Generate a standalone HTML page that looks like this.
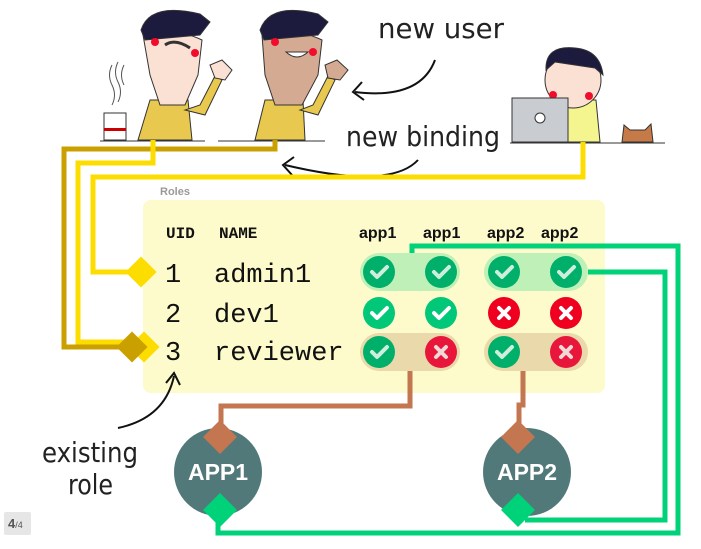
<!DOCTYPE html>
<html><head><meta charset="utf-8"><style>
body{margin:0;width:701px;height:544px;overflow:hidden;background:#fff;font-family:"Liberation Sans",sans-serif}
</style></head><body>
<svg width="701" height="544" viewBox="0 0 701 544" xmlns="http://www.w3.org/2000/svg">
<!-- people -->
<g stroke="#333" stroke-width="1">
 <!-- person1 -->
 <path d="M150 100 L138 140 L192 140 L188 100 Z" fill="#e8c84e"/>
 <path d="M185 110 L205 115 L222 80 L215 76 L200 105 Z" fill="#e8c84e"/>
 <path d="M215 78 L210 65 L222 60 L232 70 L225 80 Z" fill="#fbe0d4"/>
 <path d="M143 35 Q170 25 202 40 L198 75 L185 105 L160 105 L150 75 Z" fill="#fbe0d4"/>
 <path d="M141 30 Q150 2 200 14 L210 22 L200 35 L145 40 Z" fill="#1c1a3d"/>
 <circle cx="155" cy="42" r="4" fill="#f00c2a" stroke="none"/>
 <circle cx="195" cy="53" r="4" fill="#f00c2a" stroke="none"/>
 <path d="M165 45 Q175 38 190 48" fill="none" stroke-width="3"/>
 <!-- cup -->
 <rect x="104" y="113" width="22" height="27" fill="#fff"/>
 <rect x="104" y="128" width="22" height="3" fill="#c00" stroke="none"/>
 <path d="M112 65 q-5 10 0 20 q5 10 0 20 M118 62 q-5 10 0 20 q5 10 0 20 M124 65 q-5 10 0 20" fill="none" stroke="#555"/>
 <line x1="100" y1="141" x2="205" y2="141"/>
 <!-- person2 -->
 <path d="M265 100 L255 140 L305 140 L303 100 Z" fill="#e8c84e"/>
 <path d="M300 110 L318 115 L335 80 L328 76 L313 105 Z" fill="#e8c84e"/>
 <path d="M328 78 L325 65 L337 60 L348 70 L340 80 Z" fill="#d5aa92"/>
 <path d="M262 35 Q290 25 322 40 L318 75 L302 105 L275 105 L265 75 Z" fill="#d5aa92"/>
 <path d="M260 30 Q270 2 318 14 L328 22 L318 35 L264 40 Z" fill="#1c1a3d"/>
 <circle cx="275" cy="42" r="4" fill="#f00c2a" stroke="none"/>
 <circle cx="313" cy="52" r="4" fill="#f00c2a" stroke="none"/>
 <path d="M286 52 Q297 62 308 52 Z" fill="#fff"/>
 <line x1="218" y1="141" x2="325" y2="141"/>
 <!-- person3 -->
 <path d="M565 100 L560 142 L600 142 L596 100 Z" fill="#f5f590"/>
 <circle cx="573" cy="80" r="28" fill="#fbe0d4"/>
 <path d="M546 70 Q545 45 575 48 Q600 50 603 75 L595 68 L555 62 Z" fill="#1c1a3d"/>
 <circle cx="553" cy="95" r="4" fill="#f00c2a" stroke="none"/>
 <circle cx="589" cy="96" r="4" fill="#f00c2a" stroke="none"/>
 <rect x="512" y="98" width="56" height="44" fill="#c9cdd2"/>
 <circle cx="540" cy="118" r="5" fill="#fff"/>
 <path d="M622 142 L624 125 L630 130 L645 130 L651 124 L653 142 Z" fill="#c57a48"/>
 <line x1="510" y1="143" x2="665" y2="143"/>
</g>
<!-- Roles box -->
<text x="160" y="195" font-size="11" font-weight="bold" fill="#999">Roles</text>
<rect x="143" y="200" width="462" height="193" rx="8" fill="#fdfbcb"/>
<!-- handwritten labels -->
<g font-family="DejaVu Sans Condensed, DejaVu Sans, sans-serif" fill="#222">
 <text x="378" y="38" font-size="28" textLength="126" lengthAdjust="spacingAndGlyphs">new user</text>
 <text x="346" y="146" font-size="28" textLength="154" lengthAdjust="spacingAndGlyphs">new binding</text>
 <text x="42" y="462" font-size="28" textLength="96" lengthAdjust="spacingAndGlyphs">existing</text>
 <text x="68" y="494" font-size="28" textLength="45" lengthAdjust="spacingAndGlyphs">role</text>
</g>
<g fill="none" stroke="#111" stroke-width="2">
 <path d="M435 60 Q420 100 355 92"/><path d="M362 82 L353 92 L364 100"/>
 <path d="M418 160 Q390 190 285 165"/><path d="M294 157 L283 165 L292 175"/>
 <path d="M118 428 Q165 418 174 376"/><path d="M166 383 L174 373 L180 385"/>
</g>
<!-- yellow lines -->
<g fill="none" stroke-width="5">
 <path d="M275 140 V149 H64 V347 H132" stroke="#c9a000"/>
 <path d="M153 140 V163 H78 V342 H140" stroke="#fddc00"/>
 <path d="M583 142 V177 H93 V272 H140" stroke="#fddc00"/>
</g>
<rect x="133" y="336" width="22" height="22" transform="rotate(45 144 347)" fill="#fddc00"/>
<rect x="130" y="261" width="22" height="22" transform="rotate(45 141 272)" fill="#fddc00"/>
<rect x="121" y="336" width="22" height="22" transform="rotate(45 132 347)" fill="#c9a000"/>
<!-- table text -->
<g font-family="Liberation Mono, monospace" font-weight="bold" font-size="16" fill="#111">
 <text x="166" y="238">UID</text><text x="219" y="238">NAME</text>
</g>
<g font-weight="bold" font-size="16" fill="#111">
 <text x="359" y="238">app1</text><text x="423" y="238">app1</text><text x="487" y="238">app2</text><text x="541" y="238">app2</text>
</g>
<g font-family="Liberation Mono, monospace" font-size="27" fill="#111">
 <text x="165" y="282">1</text><text x="214" y="282">admin1</text>
 <text x="165" y="322">2</text><text x="214" y="322">dev1</text>
 <text x="165" y="360">3</text><text x="214" y="360">reviewer</text>
</g>
<!-- pills -->
<rect x="360" y="253" width="100" height="38" rx="19" fill="#bff0b8"/>
<rect x="484" y="253" width="104" height="38" rx="19" fill="#bff0b8"/>
<rect x="360" y="333" width="100" height="38" rx="19" fill="#ead9aa"/>
<rect x="484" y="333" width="104" height="38" rx="19" fill="#ead9aa"/>
<!-- green/brown lines -->
<g fill="none" stroke-width="5">
 <path d="M412 253 V246 H678 V533 H218 V515" stroke="#00d27a"/>
 <path d="M588 272 H665 V520 H525" stroke="#00d27a"/>
 <path d="M410 371 V406 H221 V425" stroke="#c47650"/>
 <path d="M523 371 V405 H519 V425" stroke="#c47650"/>
</g>
<!-- icons -->
<defs>
 <g id="ok"><circle r="16" fill="#00c878"/><path d="M-7 0 L-2 5 L8 -5" fill="none" stroke="#fff" stroke-width="4" stroke-linecap="round" stroke-linejoin="round"/></g>
 <g id="okl"><circle r="16" fill="#00b06a"/><path d="M-7 0 L-2 5 L8 -5" fill="none" stroke="#cdeedd" stroke-width="4" stroke-linecap="round" stroke-linejoin="round"/></g>
 <g id="no"><circle r="16" fill="#f00020"/><path d="M-5 -5 L5 5 M5 -5 L-5 5" stroke="#fff" stroke-width="4" stroke-linecap="round"/></g>
 <g id="nol"><circle r="16" fill="#e8163a"/><path d="M-5 -5 L5 5 M5 -5 L-5 5" stroke="#f3d6d6" stroke-width="4" stroke-linecap="round"/></g>
</defs>
<use href="#okl" x="379" y="272"/><use href="#okl" x="441" y="272"/><use href="#okl" x="504" y="272"/><use href="#okl" x="566" y="272"/>
<use href="#ok" x="379" y="313"/><use href="#ok" x="441" y="313"/><use href="#no" x="504" y="313"/><use href="#no" x="566" y="313"/>
<use href="#okl" x="379" y="352"/><use href="#nol" x="441" y="352"/><use href="#okl" x="504" y="352"/><use href="#nol" x="566" y="352"/>
<!-- apps -->
<circle cx="218" cy="472" r="44" fill="#52797a"/>
<circle cx="527" cy="472" r="44" fill="#52797a"/>
<rect x="208" y="425" width="24" height="24" transform="rotate(45 220 437)" fill="#c47650"/>
<rect x="506" y="425" width="24" height="24" transform="rotate(45 518 437)" fill="#c47650"/>
<rect x="208" y="498" width="24" height="24" transform="rotate(45 220 510)" fill="#00d27a"/>
<rect x="506" y="498" width="24" height="24" transform="rotate(45 518 510)" fill="#00d27a"/>
<text x="218" y="480" font-size="23" font-weight="bold" fill="#fff" text-anchor="middle">APP1</text>
<text x="527" y="480" font-size="23" font-weight="bold" fill="#fff" text-anchor="middle">APP2</text>
<!-- badge -->
<rect x="4" y="512" width="27" height="23" rx="2" fill="#e6e6e6"/>
<text x="8" y="528" font-size="13" font-weight="bold" fill="#555">4<tspan font-size="9" font-weight="normal">/4</tspan></text>
</svg>
</body></html>
